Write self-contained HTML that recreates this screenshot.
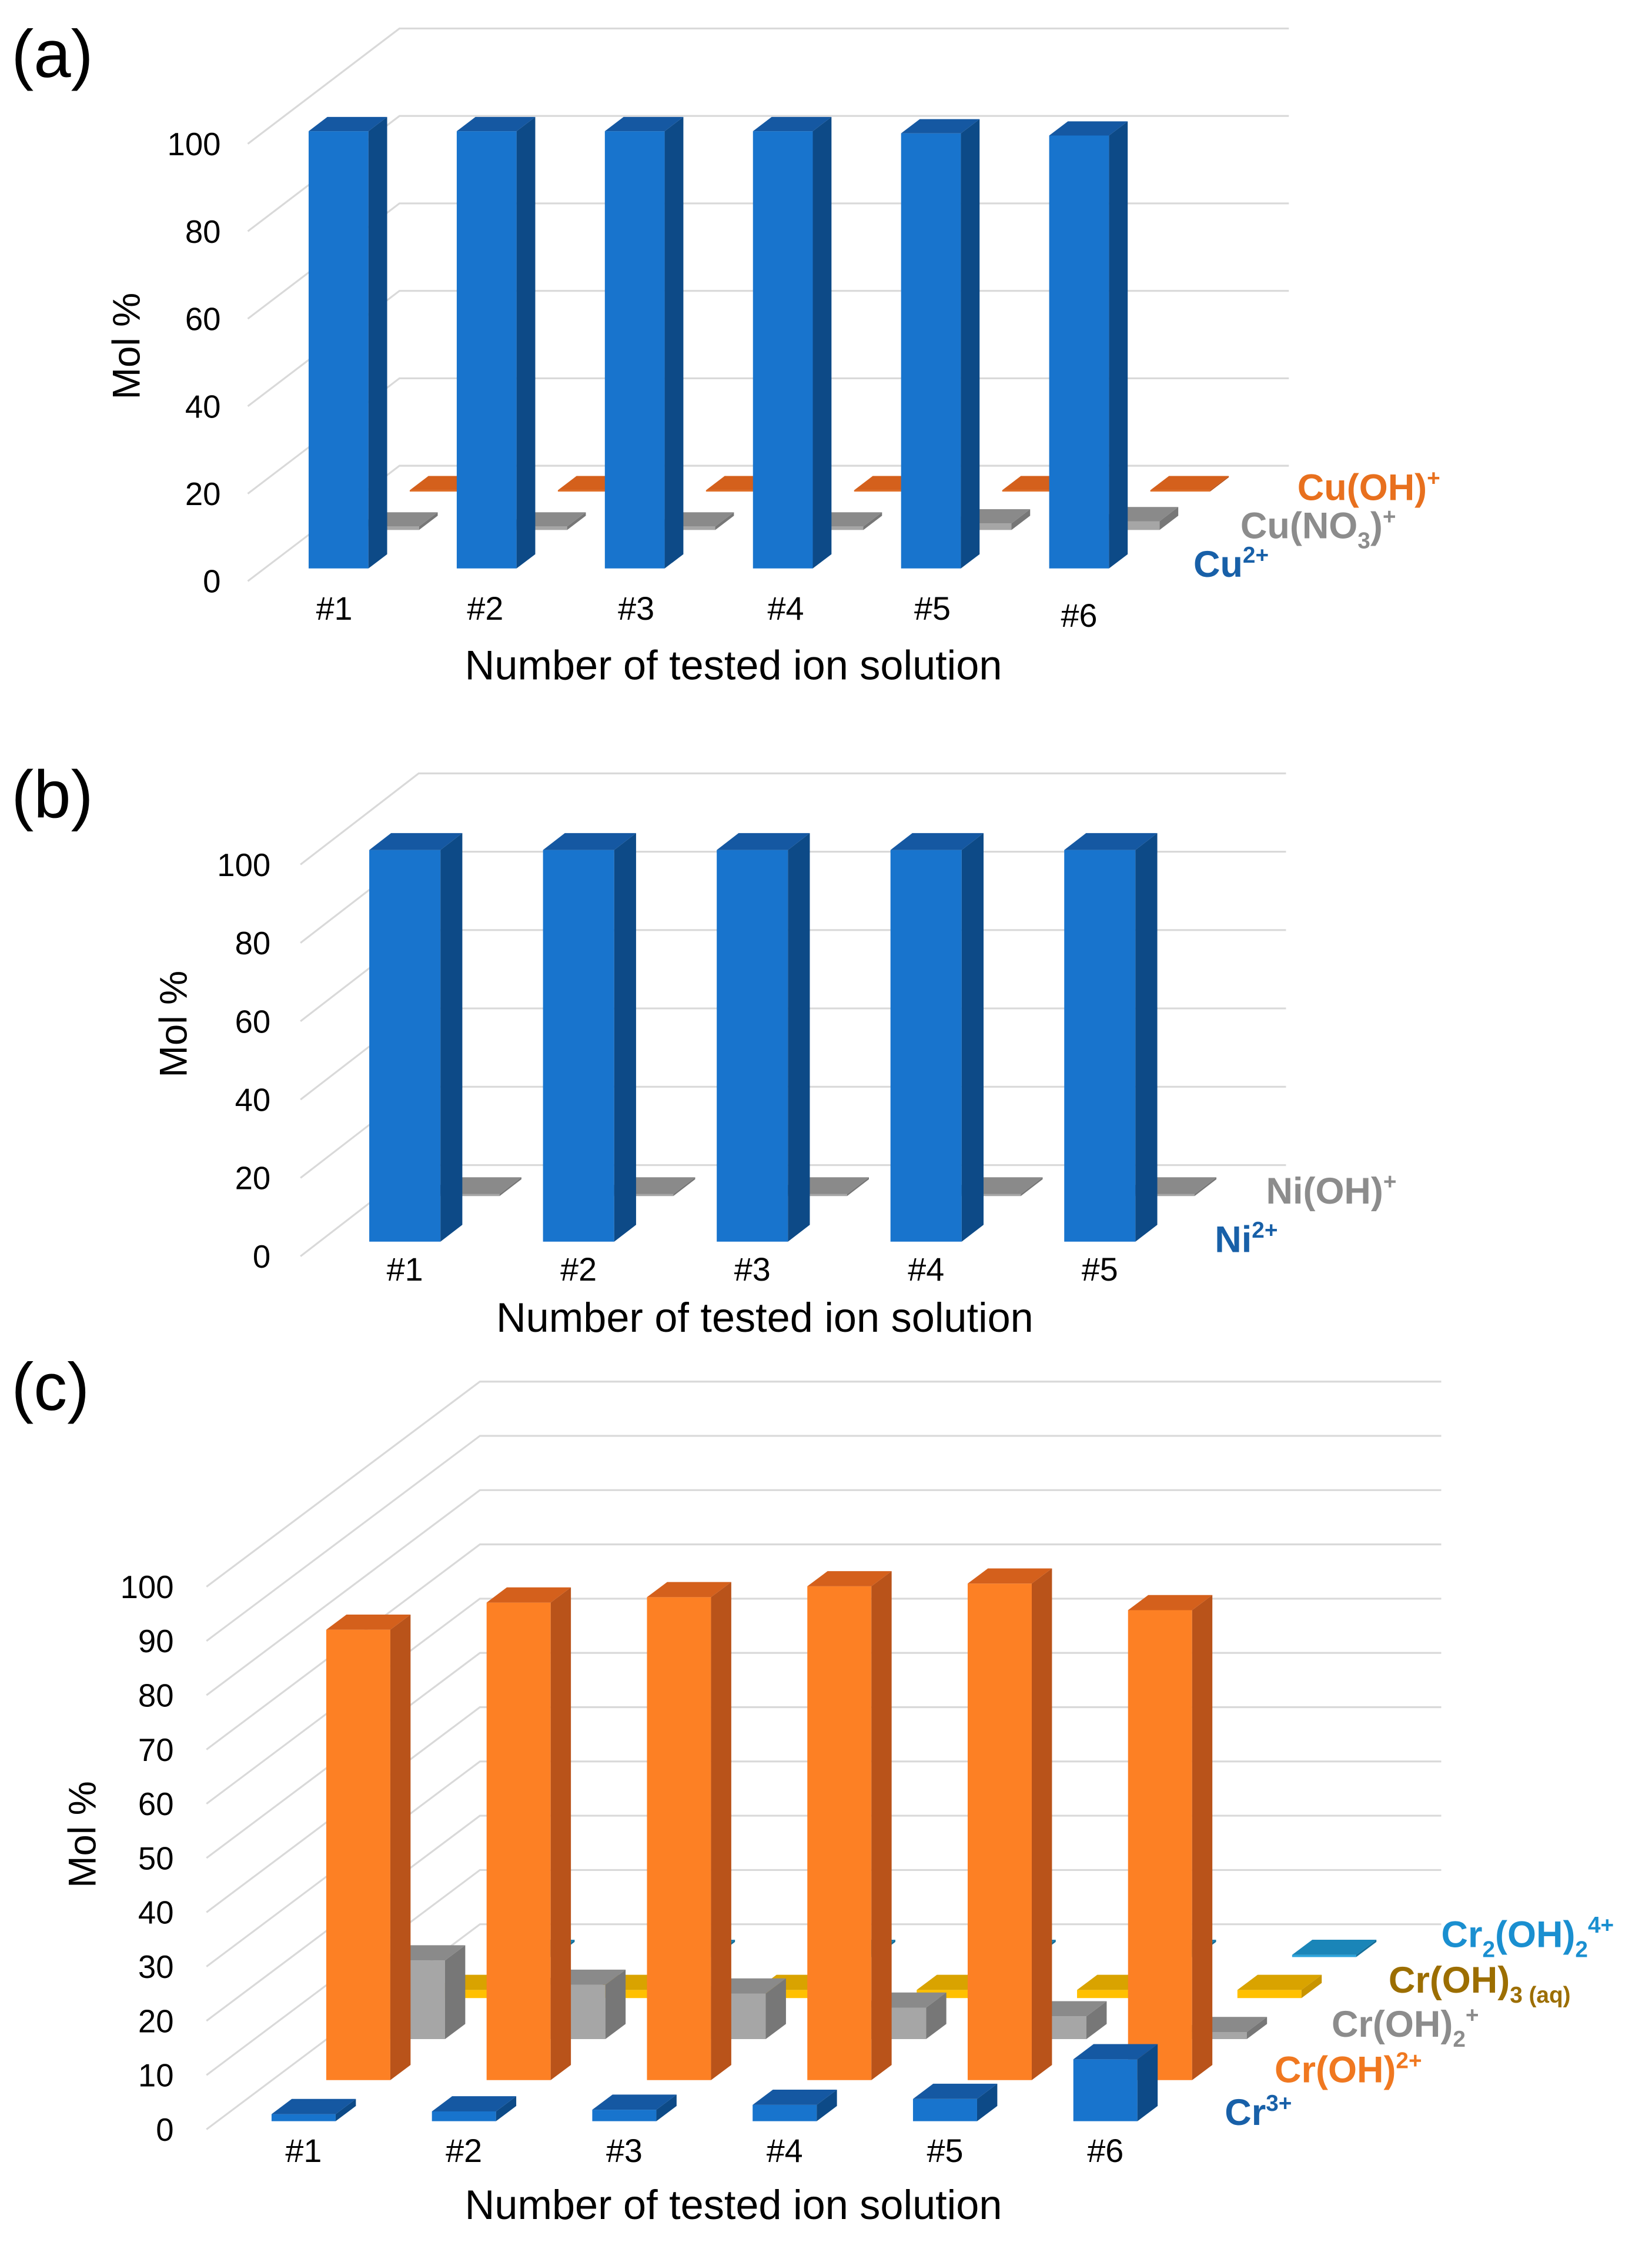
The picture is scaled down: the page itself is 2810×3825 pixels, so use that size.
<!DOCTYPE html>
<html><head><meta charset="utf-8"><style>
html,body{margin:0;padding:0;background:#fff;}
svg{display:block;font-family:"Liberation Sans",Arial,sans-serif;}
</style></head><body>
<svg id="fig" width="2810" height="3825" viewBox="0 0 1160 1579" preserveAspectRatio="none" xmlns="http://www.w3.org/2000/svg">
<rect width="1160" height="1579" fill="#fff"/>
<g id="gridA"></g>
<g id="barsA"></g>
<g id="gridB"></g>
<g id="barsB"></g>
<g id="gridC"></g>
<g id="barsC"></g>

<text x="8" y="54" font-size="47">(a)</text>
<text x="8" y="574" font-size="47">(b)</text>
<text x="8" y="990" font-size="47">(c)</text>

<text transform="translate(98,243) rotate(-90)" text-anchor="middle" font-size="27">Mol %</text>
<text transform="translate(131,719) rotate(-90)" text-anchor="middle" font-size="27">Mol %</text>
<text transform="translate(67,1288) rotate(-90)" text-anchor="middle" font-size="27">Mol %</text>

<text x="515" y="477" text-anchor="middle" font-size="29">Number of tested ion solution</text>
<text x="537" y="935" text-anchor="middle" font-size="29">Number of tested ion solution</text>
<text x="515" y="1558" text-anchor="middle" font-size="29">Number of tested ion solution</text>

<g font-weight="bold" font-size="26">
<text x="911" y="351" fill="#e8701e">Cu(OH)<tspan dy="-10" font-size="16">+</tspan></text>
<text x="871" y="378" fill="#8c8c8c">Cu(NO<tspan dy="7" font-size="16">3</tspan><tspan dy="-7">)</tspan><tspan dy="-10" font-size="16">+</tspan></text>
<text x="838" y="405" fill="#1860a8">Cu<tspan dy="-10" font-size="16">2+</tspan></text>
<text x="889" y="845" fill="#8c8c8c">Ni(OH)<tspan dy="-10" font-size="16">+</tspan></text>
<text x="853" y="879" fill="#1860a8">Ni<tspan dy="-10" font-size="16">2+</tspan></text>
<text x="1012" y="1367" fill="#1a8fd0">Cr<tspan dy="7" font-size="16">2</tspan><tspan dy="-7">(OH)</tspan><tspan dy="7" font-size="16">2</tspan><tspan dy="-17" font-size="16">4+</tspan></text>
<text x="975" y="1399" fill="#9c6e00">Cr(OH)<tspan dy="7" font-size="16">3 (aq)</tspan></text>
<text x="935" y="1430" fill="#8c8c8c">Cr(OH)<tspan dy="7" font-size="16">2</tspan><tspan dy="-17" font-size="16">+</tspan></text>
<text x="895" y="1462" fill="#f07820">Cr(OH)<tspan dy="-10" font-size="16">2+</tspan></text>
<text x="860" y="1492" fill="#1860a8">Cr<tspan dy="-10" font-size="16">3+</tspan></text>
</g>
</svg>
<script>
// ---- data ----
const catsA = ['#1','#2','#3','#4','#5','#6'];
const cuA = [100,100,100,100,99.5,99];
const cuNO3A = [0.8,0.8,0.8,0.8,1.5,2];
const cuOHA = [0.3,0.3,0.3,0.3,0.3,0.3];
const ticksA = [0,20,40,60,80,100];

const catsB = ['#1','#2','#3','#4','#5'];
const niB = [100,100,100,100,100];
const niOHB = [0.5,0.5,0.5,0.5,0.5];
const ticksB = [0,20,40,60,80,100];

const catsC = ['#1','#2','#3','#4','#5','#6'];
const cr3C = [1.3,1.8,2.1,3,4.1,11.4];
const crOH2pC = [83,88,89,91,91.5,86.6];
const crOH2C = [14.5,10,8.4,5.8,4.2,1.3];
const crOH3C = [1.5,1.5,1.5,1.5,1.5,1.5];
const cr2OH2C = [0.4,0.4,0.4,0.4,0.4,0.4];
const ticksC = [0,10,20,30,40,50,60,70,80,90,100];

const NS='http://www.w3.org/2000/svg';
const BLUE=['#1874cd','#0d4a87','#1558a2'];
const ORANGE=['#fd8024','#b9531a','#d4601c'];
const GRAY=['#a6a6a6','#777777','#8a8a8a'];
const YELLOW=['#ffc000','#c89400','#d9a300'];
const LBLUE=['#2aa3dc','#146f9a','#1a85b8'];
const ORANGE_SLAB=['#e06a20','#b9531a','#d4601c'];

function mk(tag,attrs,parent){const e=document.createElementNS(NS,tag);for(const k in attrs)e.setAttribute(k,attrs[k]);parent.appendChild(e);return e;}

function makePanel(p){
  p.X=(c)=>p.colStart+c*p.colStep;
  p.Y=(v,d)=>p.y0-d*p.DY-v*p.k;
  return p;
}
function drawGrid(p,g,ticks,labelPrefix){
  const bx=p.x0+p.rows*p.DX;
  ticks.forEach((t)=>{
    const fy=p.y0-t*p.k, by=fy-p.rows*p.DY;
    const ln=mk('polyline',{points:`${p.x0},${fy} ${bx},${by} ${p.right},${by}`,fill:'none',stroke:'#d9d9d9','stroke-width':1.3},g);
    
    
    const tx=mk('text',{x:p.tickX,y:fy+8,'text-anchor':'end','font-size':22.5,fill:'#000'},g);
    tx.textContent=t;
    
    
  });
}
function drawBar(p,g,col,row,v,cols,name){
  const d=row+p.f, D=0.37;
  const x=p.X(col)+d*p.DX, w=p.W;
  const base=p.y0-d*p.DY, top=base-v*p.k;
  const ddx=D*p.DX, ddy=D*p.DY;
  const grp=mk('g',{},g);
  
  
  mk('polygon',{points:`${x},${top} ${x+w},${top} ${x+w},${base} ${x},${base}`,fill:cols[0]},grp);
  mk('polygon',{points:`${x+w},${top} ${x+w+ddx},${top-ddy} ${x+w+ddx},${base-ddy} ${x+w},${base}`,fill:cols[1]},grp);
  mk('polygon',{points:`${x},${top} ${x+ddx},${top-ddy} ${x+w+ddx},${top-ddy} ${x+w},${top}`,fill:cols[2]},grp);
}
function drawCats(p,g,cats,ly,prefix,offs){
  cats.forEach((c,i)=>{
    const t=mk('text',{x:p.X(i)+p.W/2+p.f*p.DX+(offs?offs[i]:0),y:ly+((offs&&i==5)?5:0),'text-anchor':'middle','font-size':23},g);
    t.textContent=c;
    
    
  });
}
function series(p,g,vals,row,cols,name){
  vals.forEach((v,i)=>drawBar(p,g,i,row,v,cols,name+'-'+(i+1)));
}

// Panel A
const pA=makePanel({x0:174,y0:408,k:3.07,DX:35.5,DY:27,rows:3,f:0.33,colStart:205,colStep:104,W:42,right:905,tickX:155});
drawGrid(pA,document.getElementById('gridA'),ticksA,'panel-a');
const gA=document.getElementById('barsA');
series(pA,gA,cuOHA,2,ORANGE_SLAB,'bar-cu-oh');
series(pA,gA,cuNO3A,1,GRAY,'bar-cu-no3');
series(pA,gA,cuA,0,BLUE,'bar-cu2');
drawCats(pA,gA,catsA,435,'panel-a',[-3,-1,1,2,1,0]);

// Panel B
const pB=makePanel({x0:211,y0:882,k:2.75,DX:41.5,DY:32,rows:2,f:0.32,colStart:246,colStep:122,W:50,right:903,tickX:190});
drawGrid(pB,document.getElementById('gridB'),ticksB,'panel-b');
const gB=document.getElementById('barsB');
series(pB,gB,niOHB,1,GRAY,'bar-ni-oh');
series(pB,gB,niB,0,BLUE,'bar-ni2');
drawCats(pB,gB,catsB,899,'panel-b');

// Panel C
const pC=makePanel({x0:145,y0:1495,k:3.81,DX:38.4,DY:28.8,rows:5,f:0.2,colStart:183,colStep:112.6,W:45,right:1012,tickX:122});
drawGrid(pC,document.getElementById('gridC'),ticksC,'panel-c');
const gC=document.getElementById('barsC');
series(pC,gC,cr2OH2C,4,LBLUE,'bar-cr2-oh2');
series(pC,gC,crOH3C,3,YELLOW,'bar-cr-oh3');
series(pC,gC,crOH2C,2,GRAY,'bar-cr-oh2-plus');
series(pC,gC,crOH2pC,1,ORANGE,'bar-cr-oh-2plus');
series(pC,gC,cr3C,0,BLUE,'bar-cr3');
drawCats(pC,gC,catsC,1518,'panel-c');
</script>
</body></html>
